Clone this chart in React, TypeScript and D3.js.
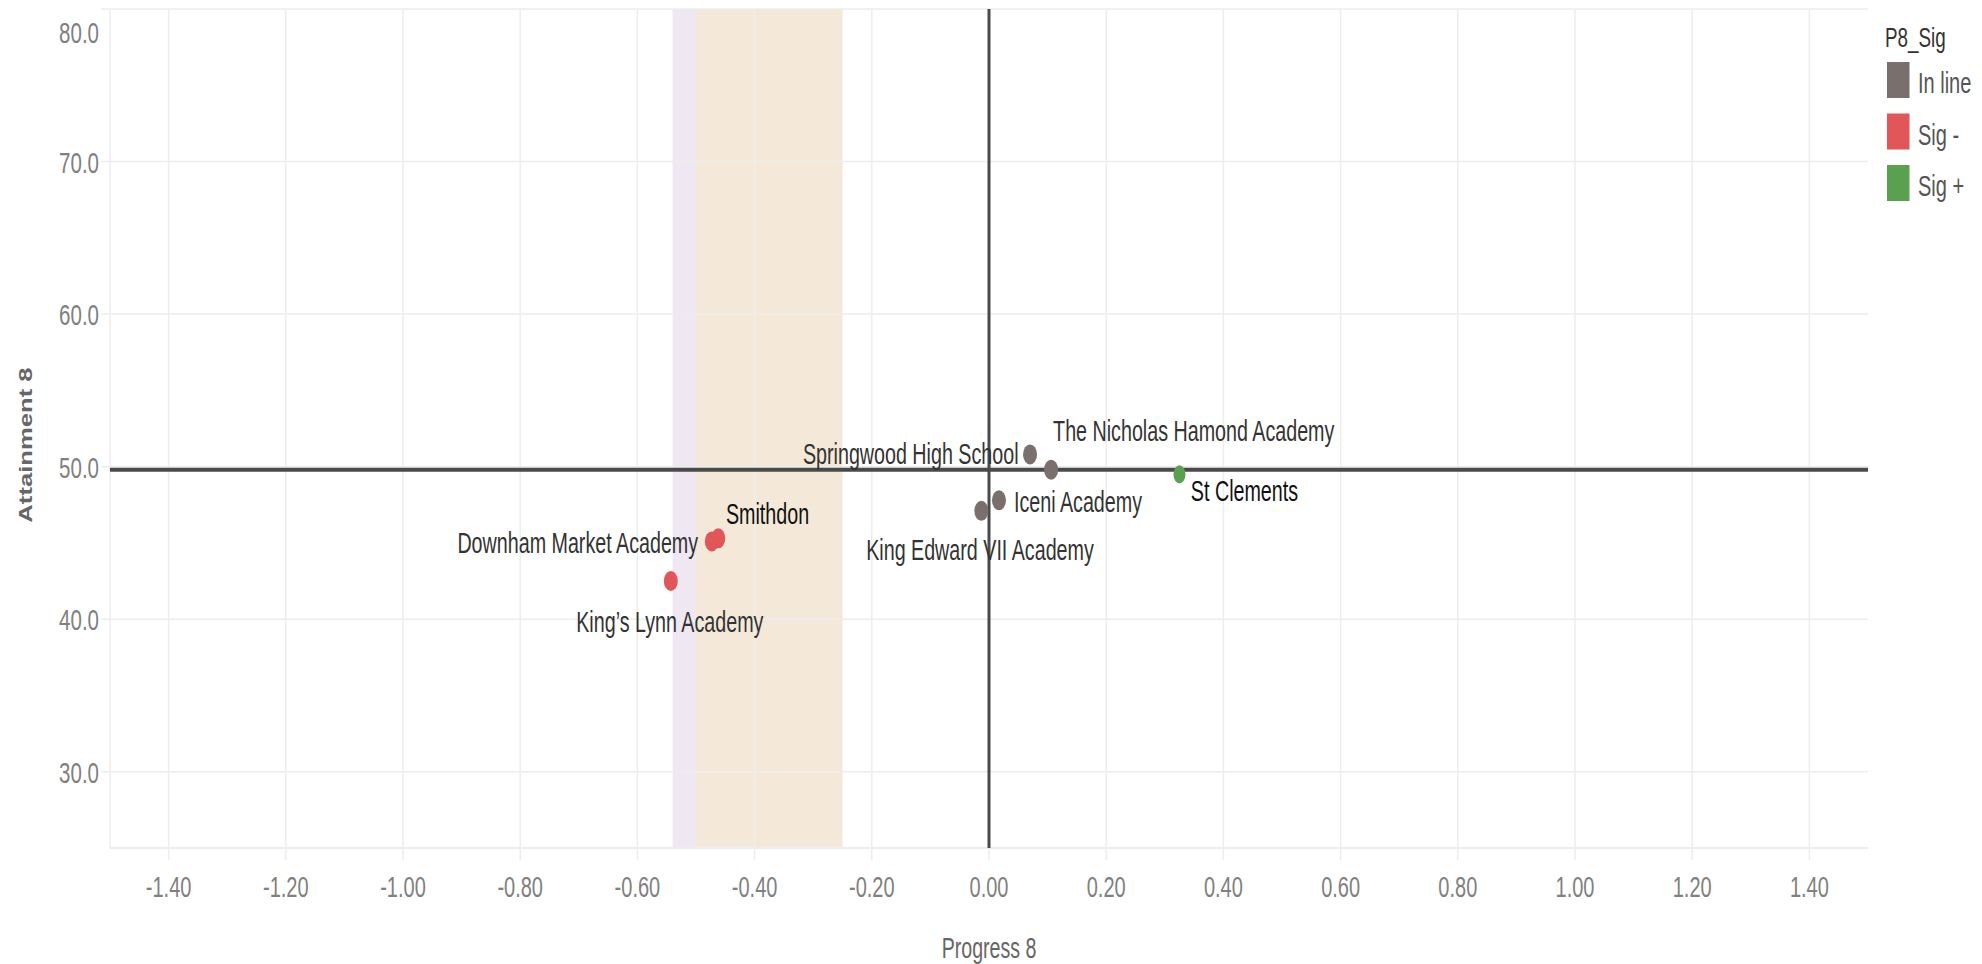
import React from 'react';
import * as d3 from 'd3';

// school data
const schools = [
  'Springwood High School',
  'The Nicholas Hamond Academy',
  'St Clements',
  'Iceni Academy',
  'King Edward VII Academy',
  'Downham Market Academy',
  'Smithdon',
  'King\u2019s Lynn Academy',
];
const progress8 = [0.07, 0.106, 0.325, 0.017, -0.013, -0.473, -0.462, -0.543];
const attainment8 = [50.8, 49.8, 49.5, 47.8, 47.1, 45.1, 45.3, 42.5];
const p8Sig = ['In line', 'In line', 'Sig +', 'In line', 'In line', 'Sig -', 'Sig -', 'Sig -'];

const sigCategories = ['In line', 'Sig -', 'Sig +'];
const sigColors = ['#79706E', '#E15759', '#59A14F'];

const xTicks = [-1.4, -1.2, -1.0, -0.8, -0.6, -0.4, -0.2, 0, 0.2, 0.4, 0.6, 0.8, 1.0, 1.2, 1.4];
const yTicks = [30, 40, 50, 60, 70, 80];

// reference lines and bands
const refAttainment = 49.8;
const refProgress = 0;
const bandStarts = [-0.54, -0.5];
const bandEnds = [-0.5, -0.25];
const bandColors = ['#EFE7F1', '#F4E9D8'];

// label placement relative to each point (anchor, dx, dy to baseline)
const labelPlacement = {
  'Springwood High School': ['end', -11.5, 10],
  'The Nicholas Hamond Academy': ['start', 2, -29],
  'St Clements': ['start', 11.4, 26.7],
  'Iceni Academy': ['start', 15, 11.7],
  'King Edward VII Academy': ['middle', -1.4, 49.3],
  'Downham Market Academy': ['end', -13.7, 11.7],
  'Smithdon': ['start', 7.7, -14],
  'King\u2019s Lynn Academy': ['middle', -1, 51],
};
const darkLabels = ['Smithdon', 'St Clements'];

const FONT = '"Liberation Sans", Arial, sans-serif';
const STRETCH = 1.47;

function SText({ x, y, anchor = 'start', size = 19.7, fill = '#333', weight = 'normal', children }) {
  return (
    <text
      transform={`translate(${x},${y}) scale(1,${STRETCH})`}
      textAnchor={anchor}
      fontSize={size}
      fontFamily={FONT}
      fontWeight={weight}
      fill={fill}
    >
      {children}
    </text>
  );
}

export default function App() {
  const width = 1982;
  const height = 964;
  const left = 110;
  const right = 1868;
  const top = 9;
  const bottom = 848;

  const xScale = d3.scaleLinear().domain([-1.5, 1.5]).range([left, right]);
  const yScale = d3.scaleLinear().domain([25, 80]).range([bottom, top]);
  const color = d3.scaleOrdinal().domain(sigCategories).range(sigColors);
  const fmtX = (v) => d3.format('.2f')(v).replace('\u2212', '-');
  const fmtY = d3.format('.1f');

  const points = schools.map((name, i) => ({
    name,
    p8: progress8[i],
    a8: attainment8[i],
    sig: p8Sig[i],
  }));

  return (
    <div style={{ position: 'absolute', left: 0, top: 0 }}>
      <svg width={width} height={height} style={{ display: 'block', background: '#fff' }}>
        {/* reference bands */}
        {bandStarts.map((s, i) => (
          <rect
            key={i}
            x={xScale(s)}
            y={top}
            width={xScale(bandEnds[i]) - xScale(s)}
            height={bottom - top}
            fill={bandColors[i]}
          />
        ))}

        {/* grid */}
        {xTicks.map((t) => (
          <line key={t} x1={xScale(t)} x2={xScale(t)} y1={top} y2={bottom + 12} stroke="#EDEDED" strokeWidth={1.5} />
        ))}
        {yTicks.map((t) => (
          <line key={t} x1={left - 9} x2={right} y1={yScale(t)} y2={yScale(t)} stroke="#EDEDED" strokeWidth={1.5} />
        ))}
        <line x1={left} x2={left} y1={top} y2={bottom} stroke="#EDEDED" strokeWidth={1.5} />
        <line x1={left} x2={right} y1={bottom} y2={bottom} stroke="#EDEDED" strokeWidth={2} />

        {/* reference lines */}
        <line x1={xScale(refProgress)} x2={xScale(refProgress)} y1={top} y2={bottom} stroke="#4A4A4A" strokeWidth={3} />
        <line x1={left} x2={right} y1={yScale(refAttainment)} y2={yScale(refAttainment)} stroke="#4A4A4A" strokeWidth={4} />

        {/* points */}
        {points.map((d) => (
          <ellipse
            key={d.name}
            cx={xScale(d.p8)}
            cy={yScale(d.a8)}
            rx={d.sig === 'Sig +' ? 6 : 7}
            ry={d.sig === 'Sig +' ? 9 : 10}
            fill={color(d.sig)}
          />
        ))}

        {/* point labels */}
        {points.map((d) => {
          const [anchor, dx, dy] = labelPlacement[d.name];
          return (
            <SText
              key={d.name}
              x={xScale(d.p8) + dx}
              y={yScale(d.a8) + dy}
              anchor={anchor}
              fill={darkLabels.includes(d.name) ? '#111' : '#333'}
            >
              {d.name}
            </SText>
          );
        })}

        {/* x axis labels */}
        {xTicks.map((t) => (
          <SText key={t} x={xScale(t)} y={897} anchor="middle" size={20} fill="#808080">
            {fmtX(t)}
          </SText>
        ))}
        <SText x={(left + right) / 2} y={958} anchor="middle" size={19.6} fill="#666">
          Progress 8
        </SText>

        {/* y axis labels */}
        {yTicks.map((t) => (
          <SText key={t} x={99} y={Math.max(yScale(t), top + 23) + 11} anchor="end" size={20.5} fill="#808080">
            {fmtY(t)}
          </SText>
        ))}
        <text
          transform={`translate(31.5,445) rotate(-90) scale(1.35,1)`}
          textAnchor="middle"
          fontSize={19}
          fontFamily={FONT}
          fontWeight="bold"
          fill="#666"
        >
          Attainment 8
        </text>

        {/* legend */}
        <SText x={1885} y={46.5} size={18.8} fill="#333">
          P8_Sig
        </SText>
        {sigCategories.map((c, i) => (
          <g key={c}>
            <rect x={1887} y={62 + i * 51.5} width={22.5} height={36} fill={color(c)} />
            <SText x={1918} y={93 + i * 51.5} size={20} fill="#555">
              {c}
            </SText>
          </g>
        ))}
      </svg>
    </div>
  );
}
